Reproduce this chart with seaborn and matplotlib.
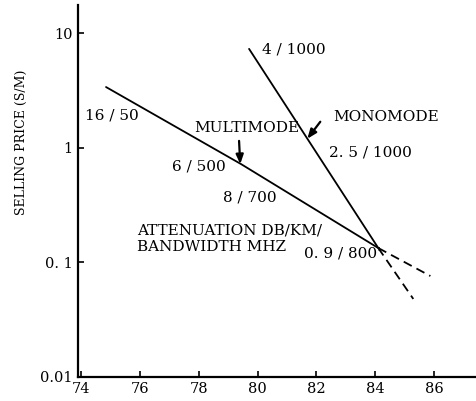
import matplotlib
matplotlib.use('Agg')
import matplotlib.pyplot as plt
import matplotlib.ticker as mticker
import seaborn as sns
import pandas as pd

# values (wavelength-ish x, price $/m on log y)
multi_x = [74.85, 79.44, 84.1]
multi_y = [3.4, 0.72, 0.133]
multi_ext_x = [84.1, 85.87]
multi_ext_y = [0.133, 0.0757]

mono_x = [79.71, 84.1]
mono_y = [7.33, 0.133]
mono_ext_x = [84.1, 85.29]
mono_ext_y = [0.133, 0.0477]

x_ticks = [74, 76, 78, 80, 82, 84, 86]
y_ticks = [0.01, 0.1, 1, 10]
y_tick_labels = ['0.01', '0. 1', '1', '10']

sns.set_style('ticks')
plt.rcParams['font.family'] = ['DejaVu Serif']
plt.rcParams['font.size'] = 11
plt.rcParams['text.color'] = 'black'

fig = plt.figure(figsize=(4.76, 4.01), dpi=100)
ax = fig.add_axes([0.164, 0.061, 0.836, 0.927])

lines = [
    (multi_x, multi_y, '-'),
    (multi_ext_x, multi_ext_y, (0, (5, 3))),
    (mono_x, mono_y, '-'),
    (mono_ext_x, mono_ext_y, (0, (5, 3))),
]
for xs, ys, ls in lines:
    df = pd.DataFrame({'x': xs, 'y': ys})
    sns.lineplot(data=df, x='x', y='y', ax=ax, color='black',
                 linewidth=1.3, linestyle=ls, sort=False)

ax.set_yscale('log')
ax.set_xlim(73.9, 87.42)
ax.set_ylim(0.01, 17.8)
ax.set_xticks(x_ticks)
ax.set_xticklabels([str(t) for t in x_ticks])
ax.set_yticks(y_ticks)
ax.set_yticklabels(y_tick_labels)
ax.yaxis.set_minor_locator(mticker.NullLocator())
ax.tick_params(direction='in', length=4, width=1.2, labelsize=10.5, pad=4,
               colors='black')

sns.despine(ax=ax)
for s in ['left', 'bottom']:
    ax.spines[s].set_linewidth(1.6)
    ax.spines[s].set_color('black')

ax.set_xlabel('')
ax.set_ylabel('SELLING PRICE (S/M)', fontsize=9, color='black')
ax.yaxis.set_label_coords(-0.125, 0.63)

# annotations
ax.text(80.16, 7.19, '4 / 1000', va='center', ha='left')
ax.text(82.57, 1.86, 'MONOMODE', va='center', ha='left')
ax.text(82.44, 0.902, '2. 5 / 1000', va='center', ha='left')
ax.text(74.14, 1.90, '16 / 50', va='center', ha='left')
ax.text(77.84, 1.49, 'MULTIMODE', va='center', ha='left')
ax.text(77.1, 0.681, '6 / 500', va='center', ha='left')
ax.text(78.83, 0.365, '8 / 700', va='center', ha='left')
ax.text(75.9, 0.191, 'ATTENUATION DB/KM/', va='center', ha='left')
ax.text(75.9, 0.136, 'BANDWIDTH MHZ', va='center', ha='left')
ax.text(81.59, 0.118, "0. 9 / 800'", va='center', ha='left')

arrow = dict(arrowstyle='-|>,head_length=0.5,head_width=0.2', color='black',
             lw=1.6, shrinkA=0, shrinkB=0)
ax.annotate('', xy=(79.41, 0.72), xytext=(79.37, 1.15), arrowprops=arrow)
ax.annotate('', xy=(81.69, 1.20), xytext=(82.13, 1.69), arrowprops=arrow)

fig.savefig('out.png', dpi=100)
